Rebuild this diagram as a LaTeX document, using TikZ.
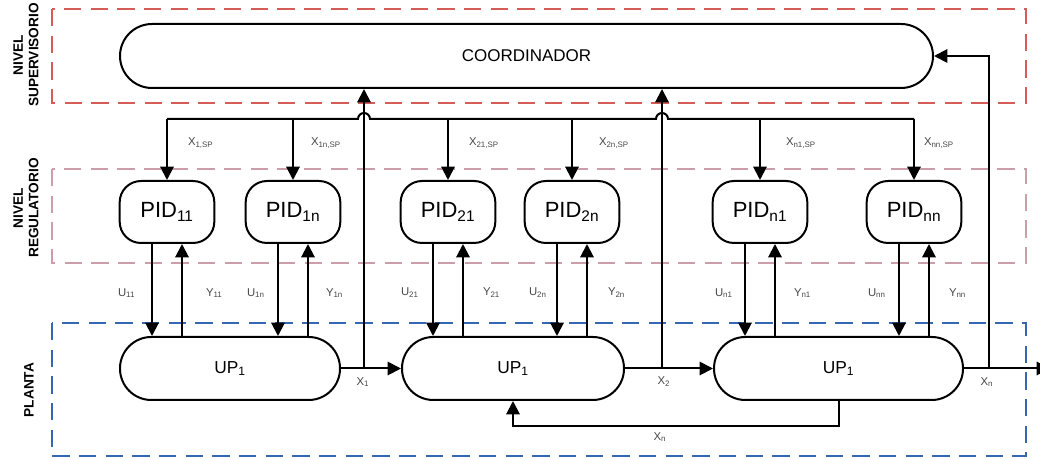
\documentclass[tikz,border=0pt]{standalone}
\usepackage{fontspec}
\setmainfont{Liberation Sans}
\usetikzlibrary{arrows.meta,calc}
\definecolor{supred}{RGB}{214,92,88}
\definecolor{regrose}{RGB}{204,158,170}
\definecolor{plantblue}{RGB}{52,104,178}
\definecolor{lbl}{RGB}{70,70,70}
\begin{document}
\begin{tikzpicture}[x=0.75pt,y=-0.75pt,
  line width=1.5pt,
  arr/.style={-{Triangle[length=10pt,width=10pt]}},
  zone/.style={line width=1.6pt, dash pattern=on 13pt off 7pt},
  pid/.style={draw, rounded corners=16pt, minimum width=71pt, minimum height=46.5pt, inner sep=0pt, font=\fontsize{16.5}{18}\selectfont},
  up/.style={draw, rounded corners=23.5pt, minimum height=47.25pt, inner sep=0pt, font=\fontsize{13}{15}\selectfont},
  sig/.style={font=\fontsize{8.5}{9}\selectfont, text=lbl, inner sep=0pt},
  lvl/.style={font=\bfseries\fontsize{10.25}{11.5}\selectfont, rotate=90, align=center, inner sep=0pt}
]
\useasboundingbox (0,0) rectangle (1040,459);

% zones
\draw[zone, supred] (52,9) rectangle (1026,103);
\draw[zone, regrose] (52,169) rectangle (1026,263);
\draw[zone, plantblue] (52,323) rectangle (1026,456);

\node[lvl] (lsup) at (26,55) {NIVEL\\SUPERVISORIO};
\node[lvl] (lreg) at (26,208) {NIVEL\\REGULATORIO};
\node[lvl] (lpla) at (29,390) {PLANTA};

% coordinator
\node[draw, rounded corners=24pt, minimum width=609.75pt, minimum height=48pt, inner sep=0pt,
      font=\fontsize{12.75}{15}\selectfont] (coord) at (526.5,56) {COORDINADOR};

% PIDs
\node[pid] (p11) at (167,212) {PID\textsubscript{11}};
\node[pid] (p1n) at (293,212) {PID\textsubscript{1n}};
\node[pid] (p21) at (448,212) {PID\textsubscript{21}};
\node[pid] (p2n) at (572,212) {PID\textsubscript{2n}};
\node[pid] (pn1) at (760,212) {PID\textsubscript{n1}};
\node[pid] (pnn) at (914,212) {PID\textsubscript{nn}};

% process units
\node[up, minimum width=165pt] (up1) at (230,368.5) {UP\textsubscript{1}};
\node[up, minimum width=166.5pt] (up2) at (513,368.5) {UP\textsubscript{1}};
\node[up, minimum width=186.75pt] (up3) at (838.5,368.5) {UP\textsubscript{1}};

% chain
\coordinate (outend) at (1050,368.5);
\draw[arr] (up1.east) -- (up2.west);
\draw[arr] (up2.east) -- (up3.west);
\draw[arr] (up3.east) -- (outend);

% taps to coordinator
\coordinate (t1) at (364,368.5);
\coordinate (t2) at (662,368.5);
\coordinate (t3) at (989,368.5);
\draw[arr] (t1) -- (t1 |- coord.south);
\draw[arr] (t2) -- (t2 |- coord.south);
\draw[arr] (t3) |- (coord.east);

% set-point distribution with hops
\coordinate (d1) at (167,119);
\coordinate (d6) at (914,119);
\coordinate (h1) at (358,119);
\coordinate (h2) at (656,119);
\draw (d1) -- (h1) arc[start angle=180,end angle=0,radius=4.5pt] -- (h2) arc[start angle=180,end angle=0,radius=4.5pt] -- (d6);
\foreach \p in {p11,p1n,p21,p2n,pn1,pnn}
  \draw[arr] (\p.north |- d1) -- (\p.north);

% U / Y lines
\foreach \p/\u in {p11/up1,p1n/up1,p21/up2,p2n/up2,pn1/up3,pnn/up3} {
  \draw[arr] ([xshift=-11.25pt]\p.south) -- ([xshift=-11.25pt]\p.south |- \u.north);
  \draw[arr] ([xshift=11.25pt]\p.south |- \u.north) -- ([xshift=11.25pt]\p.south);
}

% recycle Xn
\draw[arr] (up3.south) -- ++(0,25) -| (up2.south);

% labels
\node[sig, anchor=west] (ls1) at (187,143) {X\textsubscript{1,SP}};
\node[sig, anchor=west] (ls2) at (310,143) {X\textsubscript{1n,SP}};
\node[sig, anchor=west] (ls3) at (468,143) {X\textsubscript{21,SP}};
\node[sig, anchor=west] (ls4) at (598,143) {X\textsubscript{2n,SP}};
\node[sig, anchor=west] (ls5) at (785,143) {X\textsubscript{n1,SP}};
\node[sig, anchor=west] (ls6) at (923,143) {X\textsubscript{nn,SP}};

\node[sig, anchor=west] (lu1) at (117,293) {U\textsubscript{11}};
\node[sig, anchor=west] (ly1) at (205,293) {Y\textsubscript{11}};
\node[sig, anchor=west] (lu2) at (246,293) {U\textsubscript{1n}};
\node[sig, anchor=west] (ly2) at (325,293) {Y\textsubscript{1n}};
\node[sig, anchor=west] (lu3) at (400,293) {U\textsubscript{21}};
\node[sig, anchor=west] (ly3) at (482,293) {Y\textsubscript{21}};
\node[sig, anchor=west] (lu4) at (528,293) {U\textsubscript{2n}};
\node[sig, anchor=west] (ly4) at (607,293) {Y\textsubscript{2n}};
\node[sig, anchor=west] (lu5) at (714,293) {U\textsubscript{n1}};
\node[sig, anchor=west] (ly5) at (793,293) {Y\textsubscript{n1}};
\node[sig, anchor=west] (lu6) at (867,293) {U\textsubscript{nn}};
\node[sig, anchor=west] (ly6) at (948,293) {Y\textsubscript{nn}};

\node[sig] (lx1) at (363,382) {X\textsubscript{1}};
\node[sig] (lx2) at (664,382) {X\textsubscript{2}};
\node[sig] (lx3) at (987,382) {X\textsubscript{n}};
\node[sig] (lx4) at (660,437) {X\textsubscript{n}};
\end{tikzpicture}
\end{document}
